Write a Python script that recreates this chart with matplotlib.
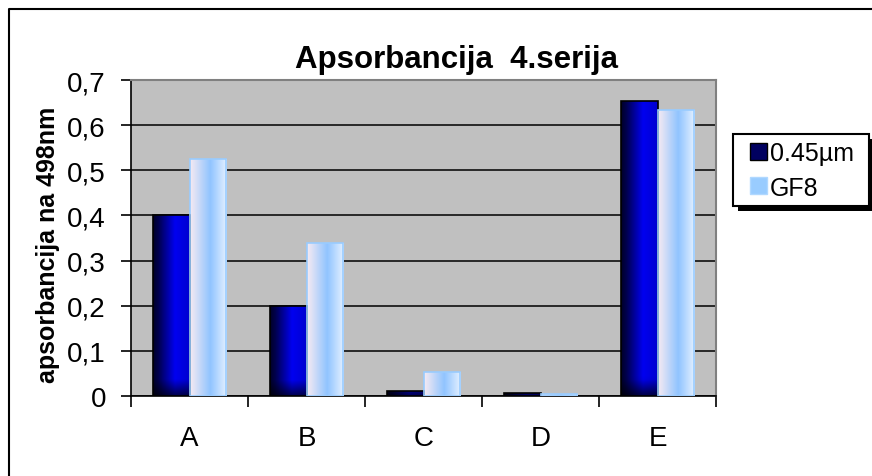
import matplotlib
matplotlib.use("Agg")
from matplotlib import pyplot as plt
from matplotlib.patches import Patch, Rectangle
from matplotlib.lines import Line2D
from matplotlib.colors import LinearSegmentedColormap
import numpy as np

# data
categories = ["A", "B", "C", "D", "E"]
series_names = ["0.45µm", "GF8"]
vals_045 = [0.40, 0.20, 0.012, 0.006, 0.654]
vals_gf8 = [0.525, 0.338, 0.054, 0.005, 0.634]
yticks = [0.0, 0.1, 0.2, 0.3, 0.4, 0.5, 0.6, 0.7]
ytick_labels = ["0", "0,1", "0,2", "0,3", "0,4", "0,5", "0,6", "0,7"]

plt.rcParams["font.family"] = ["Liberation Sans", "DejaVu Sans"]

W, H = 872, 477
fig = plt.figure(figsize=(W / 100, H / 100), dpi=100)
ax = fig.add_axes([131 / W, 1 - 397 / H, 585 / W, 316 / H])
ax.set_facecolor("#c0c0c0")

dark_cmap = LinearSegmentedColormap.from_list(
    "dark", [(0, "#000028"), (0.15, "#000050"), (0.6, "#0000f0"), (1, "#0000d0")])
light_cmap = LinearSegmentedColormap.from_list(
    "light", [(0, "#f6eaf2"), (0.55, "#90c4ff"), (1, "#e4f0ff")])

bw = 0.312
x = np.arange(len(categories)) + 0.5


def gradient_bars(xpos, vals, cmap, edge, z, dark_bottom=False):
    bars = ax.bar(xpos, vals, width=bw, facecolor="none", edgecolor=edge,
                  linewidth=1.2, zorder=z + 0.1)
    for b in bars:
        x0, y0, h = b.get_x(), b.get_y(), b.get_height()
        rgb = cmap(np.linspace(0, 1, 64))[:, :3]
        yy = np.linspace(y0 + h, y0, 80)
        if dark_bottom:
            f = 0.35 + 0.65 * np.clip(yy / 0.035, 0, 1)
        else:
            f = np.ones_like(yy)
        img = rgb[None, :, :] * f[:, None, None]
        im = ax.imshow(img, aspect="auto", interpolation="bilinear",
                       extent=[x0, x0 + b.get_width(), y0, y0 + h], zorder=z)
        im.set_clip_path(b)
    return bars


gradient_bars(x - bw / 2, vals_045, dark_cmap, "black", 3, dark_bottom=True)
gradient_bars(x + bw / 2, vals_gf8, light_cmap, "#99ccff", 3)

ax.set_xlim(0, len(categories))
ax.set_ylim(0, 0.7)

# grid
ax.set_yticks(yticks)
ax.set_yticklabels(ytick_labels, fontsize=20)
ax.yaxis.grid(True, color="black", linewidth=1.1, zorder=1)
ax.set_axisbelow(True)

ax.set_xticks(np.arange(len(categories) + 1))
ax.set_xticklabels([])
ax.set_xticks(x, minor=True)
ax.set_xticklabels(categories, minor=True, fontsize=20)
ax.tick_params(axis="x", which="major", length=8, width=1.2, direction="out")
ax.tick_params(axis="x", which="minor", length=0, pad=21)
ax.tick_params(axis="y", length=7, width=1.2, direction="out", pad=11)

for s in ["top", "right"]:
    ax.spines[s].set_color("#808080")
    ax.spines[s].set_linewidth(1.5)
for s in ["left", "bottom"]:
    ax.spines[s].set_color("black")
    ax.spines[s].set_linewidth(1.2)

ax.set_ylabel("apsorbancija na 498nm", fontsize=18, fontweight="bold")
ax.yaxis.set_label_coords((60 - 131) / 585, 0.48)

fig.text(456 / W, 1 - 68 / H, "Apsorbancija  4.serija", fontsize=22.5,
         fontweight="bold", ha="center", va="baseline")

# legend: frame and shadow drawn by hand, entries via ax.legend
fig.patches.append(Rectangle((738, H - 212), 136, 72, transform=None,
                             facecolor="black", edgecolor="none", zorder=-2, figure=fig))
fig.patches.append(Rectangle((733, H - 207), 136, 72, transform=None,
                             facecolor="white", edgecolor="black", linewidth=1.5,
                             zorder=-1, figure=fig))
handles = [Patch(facecolor="#000060", edgecolor="black"),
           Patch(facecolor="#99ccff", edgecolor="#b0d8ff")]
leg = ax.legend(handles, series_names, loc="upper left",
                bbox_to_anchor=(750 / W, 1 - 142 / H), bbox_transform=fig.transFigure,
                borderaxespad=0, borderpad=0, fontsize=18, frameon=False,
                handlelength=0.66, handleheight=0.66, handletextpad=0.12,
                labelspacing=0.42)

# outer frame (left and top edges)
fig.lines.append(Line2D([9 / W, 9 / W, 1], [0, 1 - 10 / H, 1 - 10 / H],
                        transform=fig.transFigure, color="black", linewidth=1.5))

fig.savefig("out.png", dpi=100)
